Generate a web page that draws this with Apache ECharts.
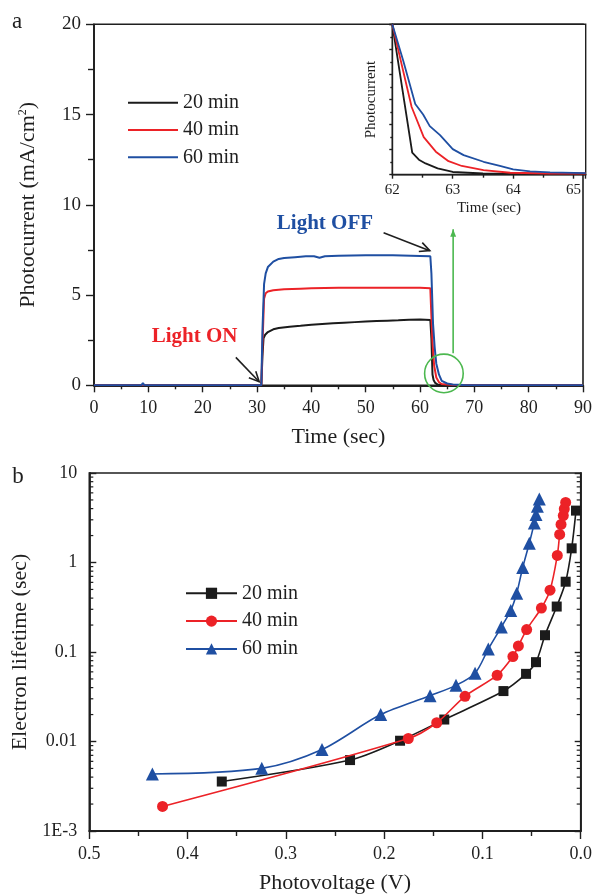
<!DOCTYPE html>
<html>
<head>
<meta charset="utf-8">
<script src="https://cdn.jsdelivr.net/npm/echarts@6/dist/echarts.min.js"></script>
<style>
  html, body { margin: 0; padding: 0; background: #fff; }
  #chart { width: 595px; height: 895px; }
</style>
</head>
<body>
<div id="chart"></div>
<script>
// ---- Panel a: photocurrent transients (time in s, current in mA/cm2) ----
const time20 = [0, 5, 9, 9.3, 12, 13, 13.3, 20, 28, 30.8, 31.0, 31.2, 31.5, 32, 33, 34, 36, 38, 40, 42, 44, 46, 48, 50, 52, 54, 56, 58, 60, 61.9, 62.1, 62.3, 62.5, 62.8, 63.2, 64, 65, 90];
const current20 = [0, 0, 0, 0.06, 0, 0, 0.05, 0, 0, 0, 1.6, 2.6, 2.8, 2.95, 3.1, 3.17, 3.25, 3.3, 3.36, 3.4, 3.44, 3.47, 3.5, 3.53, 3.56, 3.58, 3.6, 3.63, 3.65, 3.62, 2.6, 0.6, 0.29, 0.13, 0.05, 0.02, 0, 0];

const time40 = [0, 14, 14.3, 14.6, 17, 17.3, 19, 19.3, 21, 21.3, 22.5, 22.8, 24, 24.3, 25.5, 25.8, 27, 27.3, 28.5, 28.8, 30.8, 31.0, 31.3, 31.6, 32, 33, 35, 38, 40, 45, 50, 55, 60, 61.9, 62.1, 62.3, 62.6, 63, 63.5, 64, 65, 67, 90];
const current40 = [0, 0, 0.07, 0, 0, 0.07, 0, 0.07, 0, 0.08, 0, 0.08, 0, 0.08, 0, 0.08, 0, 0.08, 0, 0.08, 0, 2.2, 4.8, 5.1, 5.2, 5.27, 5.32, 5.35, 5.37, 5.4, 5.4, 5.4, 5.4, 5.38, 3.8, 2.4, 1.1, 0.43, 0.17, 0.07, 0.04, 0, 0];

const time60 = [0, 8.7, 9, 9.3, 30.8, 31.0, 31.3, 31.6, 32, 33, 34, 35, 37, 39, 40.5, 41.5, 42.5, 45, 50, 55, 60, 61.9, 62.1, 62.4, 62.7, 63, 63.5, 64, 65, 66, 68, 70, 90];
const current60 = [0, 0, 0.12, 0, 0, 3.0, 5.6, 6.2, 6.55, 6.85, 7.0, 7.05, 7.1, 7.15, 7.15, 7.07, 7.15, 7.18, 7.2, 7.2, 7.17, 7.15, 6.2, 3.4, 2.1, 1.2, 0.59, 0.25, 0.1, 0.05, 0.02, 0, 0];

// ---- Inset: normalized decay after light off ----
const decayTime20 = [62, 62.33, 62.44, 62.55, 62.75, 63, 63.5, 64, 65.2];
const decay20 = [1.0, 0.146, 0.1, 0.075, 0.042, 0.018, 0.008, 0.007, 0.007];
const decayTime40 = [62, 62.18, 62.32, 62.52, 62.72, 62.93, 63.15, 63.51, 63.95, 64.6, 65.2];
const decay40 = [1.0, 0.69, 0.45, 0.25, 0.153, 0.09, 0.058, 0.031, 0.013, 0.008, 0.008];
const decayTime60 = [62, 62.18, 62.38, 62.51, 62.62, 62.79, 63.0, 63.18, 63.51, 63.78, 64.0, 64.28, 64.61, 65.2];
const decay60 = [1.0, 0.76, 0.47, 0.40, 0.323, 0.263, 0.17, 0.13, 0.086, 0.058, 0.035, 0.022, 0.015, 0.011];

// ---- Panel b: electron lifetime vs photovoltage ----
const voltage20 = [0.3652, 0.2347, 0.1838, 0.1388, 0.0786, 0.0556, 0.0455, 0.0363, 0.0244, 0.0153, 0.0092, 0.0048];
const lifetime20 = [0.00357, 0.0062, 0.0102, 0.0176, 0.0366, 0.057, 0.077, 0.154, 0.322, 0.61, 1.44, 3.8];
const voltage40 = [0.4255, 0.1754, 0.1465, 0.1177, 0.085, 0.069, 0.0634, 0.055, 0.040, 0.0312, 0.0238, 0.0214, 0.020, 0.0177, 0.0167, 0.0153];
const lifetime40 = [0.00188, 0.0108, 0.0162, 0.032, 0.055, 0.089, 0.117, 0.178, 0.31, 0.49, 1.2, 2.06, 2.66, 3.34, 3.96, 4.69];
const voltage60 = [0.4358, 0.3245, 0.2632, 0.2035, 0.1533, 0.1269, 0.1075, 0.094, 0.0808, 0.0712, 0.0651, 0.059, 0.0523, 0.0472, 0.0455, 0.0441, 0.0421];
const lifetime60 = [0.00433, 0.00501, 0.00813, 0.0200, 0.0325, 0.0424, 0.058, 0.108, 0.19, 0.291, 0.454, 0.88, 1.64, 2.77, 3.43, 4.24, 5.12];

const lifetimeTickLabels = ['1E-3', '0.01', '0.1', '1', '10'];
const lifetimeMinorTicks = [
  0.002, 0.003, 0.004, 0.005, 0.006, 0.007, 0.008, 0.009,
  0.02, 0.03, 0.04, 0.05, 0.06, 0.07, 0.08, 0.09,
  0.2, 0.3, 0.4, 0.5, 0.6, 0.7, 0.8, 0.9,
  2, 3, 4, 5, 6, 7, 8, 9
];
const legendLabels = ['20 min', '40 min', '60 min'];

const FONT = 'Liberation Serif';
const INK = '#1f1f1f';
const BLACK = '#1b1b1b', RED = '#ec2227', BLUE = '#1f4fa2';
const colors = [BLACK, RED, BLUE];

const zip = (xs, ys) => xs.map((x, i) => [x, ys[i]]);

const chart = echarts.init(document.getElementById('chart'), null, { renderer: 'canvas' });

const axisLineStyle = { color: INK, width: 1.8 };
const tickStyle = { color: INK, width: 1.4 };

function linearAxis(extra) {
  return Object.assign({
    type: 'value',
    splitLine: { show: false },
    axisLine: { show: true, onZero: false, lineStyle: axisLineStyle },
    axisTick: { show: true, length: 7, lineStyle: tickStyle },
    minorTick: { show: true, splitNumber: 2, length: 4, lineStyle: tickStyle },
    axisLabel: { color: INK, fontFamily: FONT, fontSize: 18 },
    nameLocation: 'middle',
    nameTextStyle: { color: INK, fontFamily: FONT, fontSize: 22 }
  }, extra);
}

const photoSets = [zip(time20, current20), zip(time40, current40), zip(time60, current60)];
const decaySets = [zip(decayTime20, decay20), zip(decayTime40, decay40), zip(decayTime60, decay60)];
const lifeSets = [zip(voltage20, lifetime20), zip(voltage40, lifetime40), zip(voltage60, lifetime60)];
const lifeSymbols = ['rect', 'circle', 'triangle'];
const lifeSymbolSizes = [10, 11, 13];

const series = [];
legendLabels.forEach((lab, i) => {
  series.push({
    name: 'a ' + lab, type: 'line', xAxisIndex: 0, yAxisIndex: 0,
    data: photoSets[i], showSymbol: false, symbol: 'none',
    lineStyle: { color: colors[i], width: 2 }, itemStyle: { color: colors[i] },
    z: 2 + i, animation: false
  });
});
legendLabels.forEach((lab, i) => {
  series.push({
    name: 'inset ' + lab, type: 'line', xAxisIndex: 1, yAxisIndex: 1,
    data: decaySets[i], showSymbol: false, symbol: 'none',
    lineStyle: { color: colors[i], width: 1.8 }, itemStyle: { color: colors[i] },
    z: 12 + i, animation: false
  });
});
legendLabels.forEach((lab, i) => {
  series.push({
    name: 'b ' + lab, type: 'line', xAxisIndex: 2, yAxisIndex: 2,
    data: lifeSets[i], smooth: 0.3, symbol: lifeSymbols[i], symbolSize: lifeSymbolSizes[i],
    showSymbol: true,
    lineStyle: { color: colors[i], width: 1.6 }, itemStyle: { color: colors[i] },
    z: 2 + i, animation: false
  });
});
// log-spaced minor ticks on both vertical edges of panel b
series.push({
  type: 'custom', xAxisIndex: 2, yAxisIndex: 2, silent: true, clip: false, animation: false,
  encode: { x: 0, y: 1 },
  data: lifetimeMinorTicks.map(v => [0.25, v]),
  renderItem: (params, api) => {
    const v = api.value(1);
    const l = api.coord([0.5, v]);
    const r = api.coord([0, v]);
    const st = { stroke: INK, lineWidth: 1.2 };
    return {
      type: 'group',
      children: [
        { type: 'line', shape: { x1: l[0], y1: l[1], x2: l[0] + 4, y2: l[1] }, style: st },
        { type: 'line', shape: { x1: r[0], y1: r[1], x2: r[0] - 4, y2: r[1] }, style: st }
      ]
    };
  },
  z: 20
});

const legendBase = {
  orient: 'vertical', padding: 0, selectedMode: false,
  textStyle: { color: INK, fontFamily: FONT, fontSize: 20 },
  formatter: n => n.replace(/^\S+ /, '')
};

const option = {
  backgroundColor: '#fff',
  animation: false,
  grid: [
    { left: 94, top: 24.3, width: 491.7, height: 361, show: true, borderColor: INK, borderWidth: 1.6, backgroundColor: 'transparent' },
    { left: 392.3, top: 24.3, width: 193.4, height: 150.4, show: true, borderColor: INK, borderWidth: 1.4, backgroundColor: '#fff', z: 10 },
    { left: 89.3, top: 473, width: 491.4, height: 361, show: true, borderColor: INK, borderWidth: 1.6, backgroundColor: 'transparent' }
  ],
  xAxis: [
    linearAxis({ gridIndex: 0, min: 0, max: 90, interval: 10, name: 'Time (sec)', nameGap: 41,
      axisLabel: { color: INK, fontFamily: FONT, fontSize: 18, margin: 14 } }),
    linearAxis({ gridIndex: 1, min: 62, max: 65.2, interval: 1, name: 'Time (sec)', nameGap: 26, z: 11,
      axisTick: { show: true, length: 4, lineStyle: tickStyle },
      minorTick: { show: true, splitNumber: 2, length: 3, lineStyle: tickStyle },
      axisLine: { show: true, onZero: false, lineStyle: { color: INK, width: 1.4 } },
      axisLabel: { color: INK, fontFamily: FONT, fontSize: 15, margin: 8,
        showMaxLabel: false },
      nameTextStyle: { color: INK, fontFamily: FONT, fontSize: 15 } }),
    linearAxis({ gridIndex: 2, min: 0, max: 0.5, interval: 0.1, inverse: true, name: 'Photovoltage (V)', nameGap: 41,
      axisTick: { show: true, length: 8, lineStyle: tickStyle },
      minorTick: { show: true, splitNumber: 2, length: 5, lineStyle: tickStyle },
      axisLabel: { color: INK, fontFamily: FONT, fontSize: 18, margin: 14, formatter: v => v.toFixed(1) } })
  ],
  yAxis: [
    linearAxis({ gridIndex: 0, min: 0, max: 20, interval: 5, name: 'Photocurrent (mA/cm{sup|2})', nameGap: 55,
      axisLabel: { color: INK, fontFamily: FONT, fontSize: 19, margin: 13 },
      minorTick: { show: true, splitNumber: 2, length: 6, lineStyle: tickStyle },
      axisTick: { show: true, length: 8, lineStyle: tickStyle },
      nameTextStyle: { color: INK, fontFamily: FONT, fontSize: 22, lineHeight: 22,
        rich: { sup: { fontSize: 12, lineHeight: 12, verticalAlign: 'top', fontFamily: FONT, color: INK } } } }),
    linearAxis({ gridIndex: 1, min: 0, max: 1, interval: 1 / 6, name: 'Photocurrent', nameGap: 14, z: 11,
      axisLabel: { show: false },
      axisTick: { show: true, length: 3, lineStyle: tickStyle },
      minorTick: { show: true, splitNumber: 2, length: 2, lineStyle: tickStyle },
      axisLine: { show: true, onZero: false, lineStyle: { color: INK, width: 1.4 } },
      nameTextStyle: { color: INK, fontFamily: FONT, fontSize: 15 } }),
    {
      type: 'log', logBase: 10, gridIndex: 2, min: 0.001, max: 10,
      splitLine: { show: false },
      axisLine: { show: true, onZero: false, lineStyle: axisLineStyle },
      axisTick: { show: true, inside: true, length: 7, lineStyle: tickStyle },
      axisLabel: { color: INK, fontFamily: FONT, fontSize: 18, margin: 12,
        formatter: v => lifetimeTickLabels[Math.round(Math.log10(v)) + 3] },
      name: 'Electron lifetime (sec)', nameLocation: 'middle', nameGap: 48,
      nameTextStyle: { color: INK, fontFamily: FONT, fontSize: 22 }
    },
    {
      type: 'log', logBase: 10, gridIndex: 2, min: 0.001, max: 10, position: 'right',
      splitLine: { show: false },
      axisLine: { show: true, onZero: false, lineStyle: axisLineStyle },
      axisTick: { show: true, inside: true, length: 6, lineStyle: tickStyle },
      axisLabel: { show: false }
    }
  ],
  legend: [
    // plain line keys for the transient traces
    Object.assign({}, legendBase, { data: legendLabels.map(l => 'a ' + l), left: 128, top: 92.7,
      icon: 'rect', itemWidth: 50, itemHeight: 2, itemGap: 7.3 }),
    Object.assign({}, legendBase, { data: legendLabels.map(l => 'b ' + l), left: 185, top: 583.3,
      itemWidth: 51, itemHeight: 14, itemGap: 7.8 })
  ],
  series: series
};

chart.setOption(option);

// ---- annotations anchored to panel a data coordinates ----
const px = p => chart.convertToPixel({ gridIndex: 0 }, p);

function arrow(from, to, color, width, headLen, filled) {
  const a = px(from), b = px(to);
  const ang = Math.atan2(b[1] - a[1], b[0] - a[0]);
  const spread = filled ? 0.38 : 0.45;
  const h1 = [b[0] - headLen * Math.cos(ang - spread), b[1] - headLen * Math.sin(ang - spread)];
  const h2 = [b[0] - headLen * Math.cos(ang + spread), b[1] - headLen * Math.sin(ang + spread)];
  const els = [{ type: 'line', shape: { x1: a[0], y1: a[1], x2: b[0], y2: b[1] }, style: { stroke: color, lineWidth: width }, z: 50 }];
  if (filled) {
    els.push({ type: 'polygon', shape: { points: [b, h1, h2] }, style: { fill: color }, z: 50 });
  } else {
    els.push({ type: 'polyline', shape: { points: [h1, b, h2] }, style: { stroke: color, lineWidth: width, fill: null }, z: 50 });
  }
  return els;
}

function label(text, at, color, size, weight) {
  const p = px(at);
  return { type: 'text', x: p[0], y: p[1], z: 50,
    style: { text, fill: color, fontFamily: FONT, fontSize: size, fontWeight: weight || 'normal', align: 'center', verticalAlign: 'middle' } };
}

const GREEN = '#4cb84f';
const ringCenter = px([64.4, 0.66]);
const graphics = [
  label('Light ON', [18.5, 2.7], RED, 21, 'bold'),
  label('Light OFF', [42.5, 8.94], BLUE, 21, 'bold'),
  ...arrow([26.1, 1.55], [30.4, 0.2], INK, 1.6, 11, false),
  ...arrow([53.3, 8.45], [61.8, 7.46], INK, 1.6, 11, false),
  ...arrow([66.1, 1.77], [66.1, 8.64], GREEN, 1.6, 8, true),
  { type: 'circle', shape: { cx: ringCenter[0], cy: ringCenter[1], r: 19.3 }, style: { stroke: GREEN, lineWidth: 1.6, fill: null }, z: 50 },
  { type: 'text', x: 17, y: 21.5, style: { text: 'a', fill: INK, fontFamily: FONT, fontSize: 23, align: 'center', verticalAlign: 'middle' } },
  { type: 'text', x: 18, y: 477, style: { text: 'b', fill: INK, fontFamily: FONT, fontSize: 23, align: 'center', verticalAlign: 'middle' } }
];
chart.setOption({ graphic: graphics });
</script>
</body>
</html>
